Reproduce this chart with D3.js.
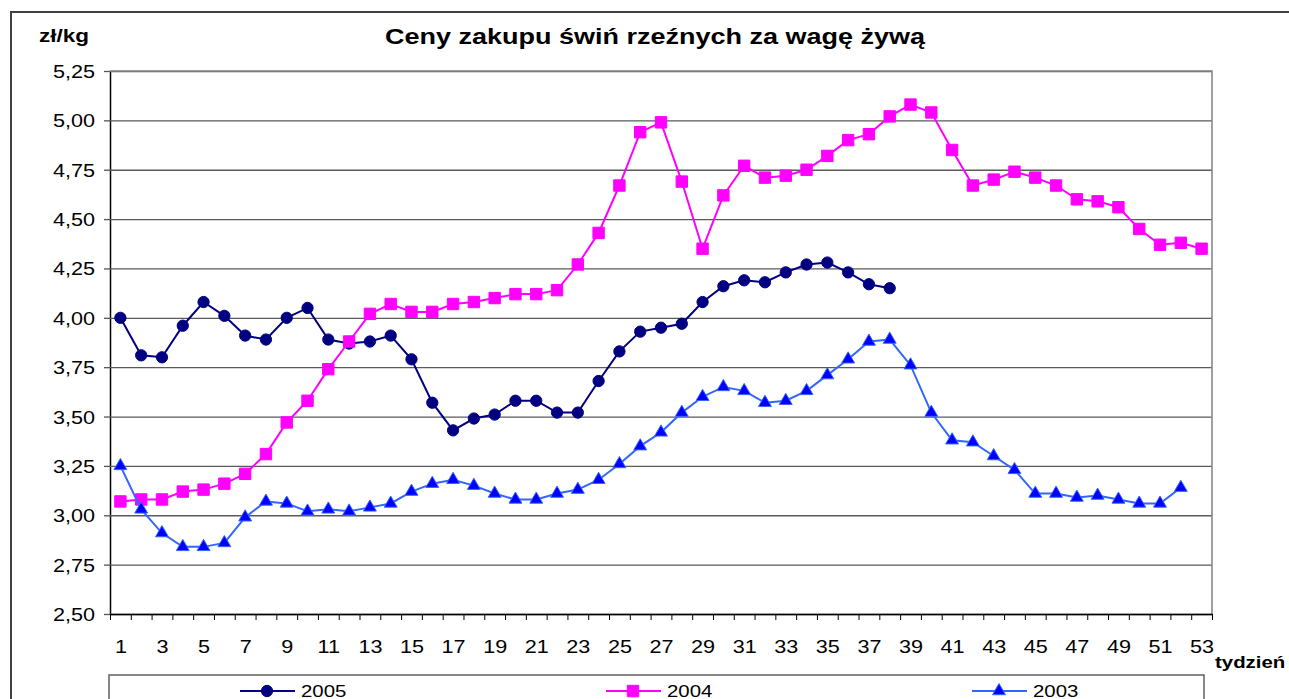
<!DOCTYPE html>
<html>
<head>
<meta charset="utf-8">
<script src="https://cdn.jsdelivr.net/npm/d3@7"></script>
<style>
  html, body { margin: 0; padding: 0; background: #fff; overflow: hidden; }
  svg { display: block; font-family: "Liberation Sans", Arial, sans-serif; }
</style>
</head>
<body>
<svg class="viz" width="1289" height="699"></svg>
<script>
// *** Data ***
const weeks = d3.range(1, 54);
const weekLabels = [1, 3, 5, 7, 9, 11, 13, 15, 17, 19, 21, 23, 25, 27, 29, 31, 33, 35, 37, 39, 41, 43, 45, 47, 49, 51, 53];
const yTicks = [2.50, 2.75, 3.00, 3.25, 3.50, 3.75, 4.00, 4.25, 4.50, 4.75, 5.00, 5.25];
const seriesNames = ["2005", "2004", "2003"];

const y2005 = [4.00, 3.81, 3.80, 3.96, 4.08, 4.01, 3.91, 3.89, 4.00, 4.05,
	3.89, 3.87, 3.88, 3.91, 3.79, 3.57, 3.43, 3.49, 3.51, 3.58,
	3.58, 3.52, 3.52, 3.68, 3.83, 3.93, 3.95, 3.97, 4.08, 4.16,
	4.19, 4.18, 4.23, 4.27, 4.28, 4.23, 4.17, 4.15];
const y2004 = [3.07, 3.08, 3.08, 3.12, 3.13, 3.16, 3.21, 3.31, 3.47, 3.58,
	3.74, 3.88, 4.02, 4.07, 4.03, 4.03, 4.07, 4.08, 4.10, 4.12,
	4.12, 4.14, 4.27, 4.43, 4.67, 4.94, 4.99, 4.69, 4.35, 4.62,
	4.77, 4.71, 4.72, 4.75, 4.82, 4.90, 4.93, 5.02, 5.08, 5.04,
	4.85, 4.67, 4.70, 4.74, 4.71, 4.67, 4.60, 4.59, 4.56, 4.45,
	4.37, 4.38, 4.35];
const y2003 = [3.25, 3.03, 2.91, 2.84, 2.84, 2.86, 2.99, 3.07, 3.06, 3.02,
	3.03, 3.02, 3.04, 3.06, 3.12, 3.16, 3.18, 3.15, 3.11, 3.08,
	3.08, 3.11, 3.13, 3.18, 3.26, 3.35, 3.42, 3.52, 3.60, 3.65,
	3.63, 3.57, 3.58, 3.63, 3.71, 3.79, 3.88, 3.89, 3.76, 3.52,
	3.38, 3.37, 3.30, 3.23, 3.11, 3.11, 3.09, 3.10, 3.08, 3.06,
	3.06, 3.14];

function render() {
	let grph = d3.select(".viz");

	const left = 110, right = 1212, top = 71, bttm = 614;
	const sx = 1.2; // the original picture is stretched sideways

	let plFormat = d3.formatLocale({ decimal: ",", thousands: " ", grouping: [3], currency: ["", " zł"] }).format(".2f");

	let x = d3.scaleLinear().domain([0.5, 53.5]).range([left, right]);
	let y = d3.scaleLinear().domain([2.5, 5.25]).range([bttm, top]);

	// outer chart frame
	grph.append("path")
		.attr("d", "M11,705V12H1300")
		.attr("fill", "none").attr("stroke", "#404040").attr("stroke-width", 2);

	// gridlines + y axis
	let ax = grph.append("g").attr("class", "axisy")
		.attr("transform", "translate(" + left + ",0)")
		.call(d3.axisLeft(y).tickValues(yTicks).tickFormat(plFormat).tickSize(6).tickPadding(0).tickSizeOuter(0));
	ax.select(".domain").attr("stroke", "#000").attr("stroke-width", 1.5);
	ax.selectAll(".tick line").attr("stroke", "#555").attr("stroke-width", 1.3);
	ax.selectAll(".tick").append("line")
		.attr("x1", 0).attr("x2", right - left)
		.attr("stroke", "#5a5a5a").attr("stroke-width", 1.3);
	ax.selectAll(".tick text")
		.attr("x", -12.5).attr("dy", "0.36em")
		.attr("transform", "scale(" + sx + ",1)")
		.attr("font-size", 18).attr("font-family", null).attr("fill", "#000");

	// plot border top / right
	grph.append("path")
		.attr("d", "M" + left + "," + top + "H" + right + "V" + bttm)
		.attr("fill", "none").attr("stroke", "#888").attr("stroke-width", 1.6);

	// x axis: ticks between categories, labels on odd weeks
	let axb = grph.append("g").attr("class", "axisx")
		.attr("transform", "translate(0," + bttm + ")")
		.call(d3.axisBottom(x).tickValues(d3.range(0.5, 54, 1)).tickFormat("").tickSize(6).tickSizeOuter(0));
	axb.select(".domain").attr("stroke", "#000").attr("stroke-width", 1.5);
	axb.selectAll(".tick line").attr("stroke", "#000");

	let axl = grph.append("g").attr("class", "axisx-lbl")
		.attr("transform", "translate(0," + bttm + ")")
		.call(d3.axisBottom(x).tickValues(weekLabels).tickFormat(d3.format("d")).tickSize(0));
	axl.select(".domain").remove();
	axl.selectAll(".tick text")
		.attr("y", 39).attr("dy", 0)
		.attr("transform", "scale(" + sx + ",1)")
		.attr("font-size", 18).attr("font-family", null).attr("fill", "#000");

	// *** series ***
	const styles = [
		{ data: y2005, line: "#000080", fill: "#000080", stroke: "#000080", sym: d3.symbolCircle, size: 100 },
		{ data: y2004, line: "#ff00ff", fill: "#ff00ff", stroke: "#ff00ff", sym: d3.symbolSquare, size: 130 },
		{ data: y2003, line: "#3366ff", fill: "#0000ff", stroke: "#3366ff", sym: d3.symbolTriangle, size: 72 }
	];

	let line = d3.line()
		.x((d, i) => x(weeks[i]))
		.y((d) => y(d));

	styles.forEach((s, k) => {
		let g = grph.append("g").attr("class", "series s" + seriesNames[k]);
		g.append("path")
			.attr("d", line(s.data))
			.attr("fill", "none").attr("stroke", s.line).attr("stroke-width", 2);
		g.selectAll("path.mk").data(s.data).join("path")
			.attr("class", "mk")
			.attr("transform", (d, i) => "translate(" + x(weeks[i]) + "," + y(d) + ")")
			.attr("d", d3.symbol().type(s.sym).size(s.size))
			.attr("fill", s.fill).attr("stroke", s.stroke).attr("stroke-width", 1);
	});

	// *** texts ***
	grph.append("text")
		.attr("x", 655).attr("y", 44)
		.attr("text-anchor", "middle")
		.attr("font-size", 22.5).attr("font-weight", "bold")
		.attr("textLength", 540).attr("lengthAdjust", "spacingAndGlyphs")
		.text("Ceny zakupu świń rzeźnych za wagę żywą");

	grph.append("text")
		.attr("x", 39).attr("y", 42)
		.attr("font-size", 17.5).attr("font-weight", "bold")
		.attr("textLength", 50).attr("lengthAdjust", "spacingAndGlyphs")
		.text("zł/kg");

	grph.append("text")
		.attr("transform", "translate(1215,668) scale(" + sx + ",1)")
		.attr("font-size", 17).attr("font-weight", "bold")
		.text("tydzień");

	// *** legend ***
	let lg = grph.append("g").attr("class", "legend");
	lg.append("rect")
		.attr("x", 109).attr("y", 675).attr("width", 1095).attr("height", 60)
		.attr("fill", "#fff").attr("stroke", "#606060").attr("stroke-width", 1.5);

	let lx = d3.scalePoint().domain(seriesNames).range([240, 972]);
	styles.forEach((s, k) => {
		let gx = lx(seriesNames[k]);
		let it = lg.append("g").attr("transform", "translate(" + gx + ",691)");
		it.append("line").attr("x1", 0).attr("x2", 55)
			.attr("stroke", s.line).attr("stroke-width", 2);
		it.append("path")
			.attr("transform", "translate(27,0)")
			.attr("d", d3.symbol().type(s.sym).size(s.size))
			.attr("fill", s.fill).attr("stroke", s.stroke).attr("stroke-width", 1);
		it.append("text")
			.attr("transform", "translate(61,5.5) scale(" + sx + ",1)")
			.attr("font-size", 17)
			.text(seriesNames[k]);
	});
}

render();
</script>
</body>
</html>
